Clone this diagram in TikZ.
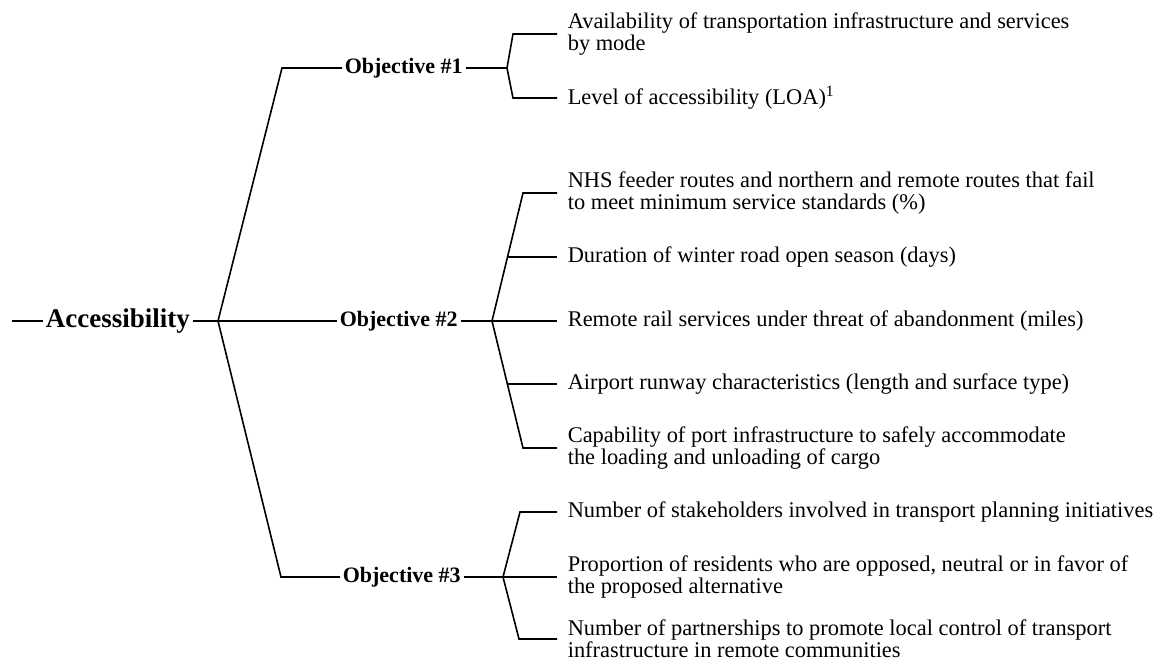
\documentclass[tikz,border=0pt]{standalone}
\usepackage{fontspec}
\setmainfont{Liberation Serif}
\begin{document}
\begin{tikzpicture}[
  x=0.5pt, y=-0.5pt,
  line width=0.8pt,
  goal/.style={
    font=\fontsize{13.5}{16}\selectfont\bfseries,
    inner xsep=1pt, inner ysep=2pt, anchor=west
  },
  objective/.style={
    font=\fontsize{11}{13}\selectfont\bfseries,
    inner xsep=1pt, inner ysep=2pt, anchor=west
  },
  measure/.style={
    font=\fontsize{11.2}{10.8}\selectfont, align=left,
    inner xsep=5pt, inner ysep=1pt, anchor=west
  },
  wide/.style={measure, text width=249pt, align=justify},
]
\useasboundingbox (0,0) rectangle (1155,662);

\def\mx{557}

% root
\coordinate (start) at (12,321);
\node[goal] (acc) at (43,321) {Accessibility};
\coordinate (hub) at (218,321);

% objectives
\coordinate (c1) at (282,68);
\coordinate (c3) at (281,577);
\node[objective] (obj1) at (342,68)  {Objective \#1};
\node[objective] (obj2) at (337,321) {Objective \#2};
\node[objective] (obj3) at (340,577) {Objective \#3};

\draw (start) -- (acc);
\draw (acc) -- (hub);
\draw (hub) -- (c1) -- (obj1.west);
\draw (hub) -- (obj2.west);
\draw (hub) -- (c3) -- (obj3.west);

% measures of objective 1
\coordinate (h1) at (507,68);
\coordinate (k11) at (513,34);
\coordinate (k12) at (513,98);
\node[measure] (m11) at (\mx,34)
  {Availability of transportation infrastructure and services\\by mode};
\node[measure] (m12) at (\mx,98)
  {Level of accessibility (LOA)\textsuperscript{1}};

\draw (obj1.east) -- (h1);
\draw (m11.west) -- (k11) -- (h1) -- (k12) -- (m12.west);

% measures of objective 2
\coordinate (h2) at (492,321);
\coordinate (k21) at (523,193);
\coordinate (k25) at (523,448);
\coordinate (j22) at (508,257);
\coordinate (j24) at (508,384);
\node[measure] (m21) at (\mx,193)
  {NHS feeder routes and northern and remote routes that fail\\to meet minimum service standards (\%)};
\node[measure] (m22) at (\mx,257)
  {Duration of winter road open season (days)};
\node[measure] (m23) at (\mx,321)
  {Remote rail services under threat of abandonment (miles)};
\node[measure] (m24) at (\mx,384)
  {Airport runway characteristics (length and surface type)};
\node[wide] (m25) at (\mx,448)
  {Capability of port infrastructure to safely accommodate the loading and unloading of cargo};

\draw (obj2.east) -- (h2);
\draw (m21.west) -- (k21) -- (h2) -- (k25) -- (m25.west);
\draw (j22) -- (m22.west);
\draw (h2) -- (m23.west);
\draw (j24) -- (m24.west);

% measures of objective 3
\coordinate (h3) at (503,577);
\coordinate (k31) at (520,512);
\coordinate (k33) at (519,639);
\node[measure] (m31) at (\mx,512)
  {Number of stakeholders involved in transport planning initiatives};
\node[measure] (m32) at (\mx,577)
  {Proportion of residents who are opposed, neutral or in favor of\\the proposed alternative};
\node[measure] (m33) at (\mx,639)
  {Number of partnerships to promote local control of transport\\infrastructure in remote communities};

\draw (obj3.east) -- (h3);
\draw (m31.west) -- (k31) -- (h3) -- (k33) -- (m33.west);
\draw (h3) -- (m32.west);

\end{tikzpicture}
\end{document}
